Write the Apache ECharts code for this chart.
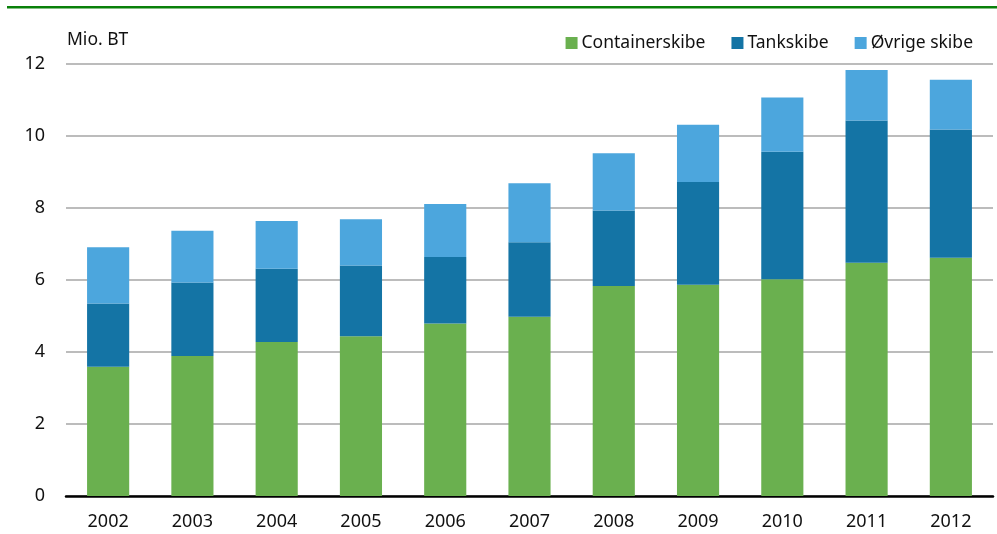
<!DOCTYPE html>
<html>
<head>
<meta charset="utf-8">
<script src="https://cdn.jsdelivr.net/npm/echarts@6/dist/echarts.min.js"></script>
<style>
html,body{margin:0;padding:0;background:#fff;}
#chart{width:997px;height:534px;}
</style>
</head>
<body>
<div id="chart"></div>
<script>
var years = ['2002','2003','2004','2005','2006','2007','2008','2009','2010','2011','2012'];
var containerskibe = [3.59, 3.89, 4.28, 4.44, 4.79, 4.98, 5.83, 5.87, 6.02, 6.48, 6.62];
var tankskibe      = [1.76, 2.04, 2.03, 1.96, 1.85, 2.07, 2.10, 2.85, 3.54, 3.95, 3.56];
var oevrige        = [1.56, 1.44, 1.33, 1.29, 1.47, 1.64, 1.59, 1.59, 1.51, 1.40, 1.38];
var seriesNames = ['Containerskibe', 'Tankskibe', 'Øvrige skibe'];
var yUnit = 'Mio. BT';

var FONT = '"Noto Sans", sans-serif';
var chart = echarts.init(document.getElementById('chart'), null, {renderer: 'canvas'});
var colors = ['#6ab04f', '#1474a5', '#4ca6dd'];
var data = [containerskibe, tankskibe, oevrige];

chart.setOption({
  animation: false,
  backgroundColor: '#ffffff',
  color: colors,
  textStyle: {fontFamily: FONT},
  grid: {left: 66, right: 4, top: 64, bottom: 38, containLabel: false},
  legend: {
    right: 19, top: 29,
    itemWidth: 12, itemHeight: 12, itemGap: 26,
    icon: 'rect',
    textStyle: {fontFamily: FONT, fontSize: 17.5, color: '#111', padding: [0,0,0,-1]},
    data: seriesNames
  },
  graphic: [
    {type: 'rect', shape: {x: 7, y: 6, width: 990, height: 2.5}, style: {fill: '#0a800a'}},
    {type: 'text', left: 67, top: 31, style: {text: yUnit, font: '17.5px ' + FONT, fill: '#111'}}
  ],
  xAxis: {
    type: 'category',
    data: years,
    axisLine: {show: true, lineStyle: {color: '#000', width: 2.5}},
    axisTick: {show: false},
    axisLabel: {fontSize: 18, color: '#111', margin: 17, fontFamily: FONT}
  },
  yAxis: {
    type: 'value',
    min: 0, max: 12, interval: 2,
    axisLine: {show: false},
    axisTick: {show: false},
    axisLabel: {fontSize: 18, color: '#111', margin: 21, fontFamily: FONT},
    splitLine: {lineStyle: {color: '#a6a6a6', width: 1.5}}
  },
  series: seriesNames.map(function (n, i) {
    return {
      name: n, type: 'bar', stack: 'total', barWidth: '50%',
      data: data[i],
      itemStyle: {color: colors[i]}
    };
  })
});
</script>
</body>
</html>
